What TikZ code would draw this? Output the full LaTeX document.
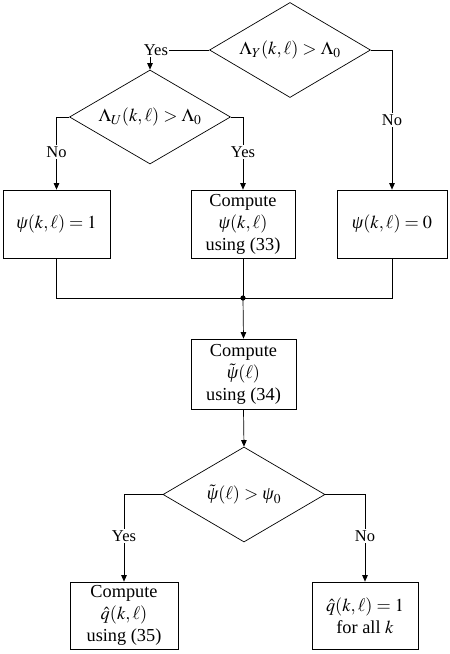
\documentclass[tikz,border=0pt]{standalone}
\usepackage{mathptmx}
\usepackage{fontspec}
\setmainfont{Liberation Serif}
\usetikzlibrary{arrows.meta,shapes.geometric,calc}
\newcommand{\gpsi}{\mbox{\itshape ψ}}
\tikzset{
  boxtext/.style={font=\fontsize{18.3}{22}\selectfont, align=center},
  procbox/.style={draw, line width=0.7pt, boxtext, inner sep=0pt},
  decision/.style={draw, diamond, aspect=1.7, line width=0.7pt, boxtext, inner sep=0pt},
  conn/.style={line width=0.7pt},
  arr/.style={line width=0.7pt, -{Triangle[length=6.5pt,width=5.5pt]}},
  lbl/.style={fill=white, inner sep=1.5pt, font=\fontsize{16.5}{19}\selectfont}
}
\begin{document}
\begin{tikzpicture}[x=1pt,y=-1pt]
\useasboundingbox (0,0) rectangle (450,654);
% decisions
\node[decision, minimum width=161pt, minimum height=95pt] (d1) at (290,50) {$\Lambda_Y(k,\ell)>\Lambda_0$};
\node[decision, minimum width=161pt, minimum height=94pt] (d2) at (150,117) {$\Lambda_U(k,\ell)>\Lambda_0$};
% boxes row 1
\node[procbox, minimum width=107pt, minimum height=68pt] (b1) at (56.5,224) {$\gpsi(k,\ell)=1$};
\node[procbox, minimum width=104pt, minimum height=68pt] (b2) at (243,224) {Compute\\ $\gpsi(k,\ell)$\\ using (33)};
\node[procbox, minimum width=110pt, minimum height=68pt] (b3) at (392,224) {$\gpsi(k,\ell)=0$};
% junction
\coordinate (j) at (243,298);
\fill (j) circle (2.6pt);
% compute psi tilde
\node[procbox, minimum width=105pt, minimum height=70pt] (b4) at (243.5,374) {Compute\\ $\tilde{\gpsi}(\ell)$\\ using (34)};
\node[decision, minimum width=162pt, minimum height=95pt] (d3) at (244,494.5) {$\tilde{\gpsi}(\ell)>\gpsi_0$};
\node[procbox, minimum width=108pt, minimum height=67pt] (b5) at (124,615.5) {Compute\\ $\hat{q}(k,\ell)$\\ using (35)};
\node[procbox, minimum width=106pt, minimum height=67pt] (b6) at (365,615.5) {$\hat{q}(k,\ell)=1$\\ for all $k$};
% connectors
\draw[arr] (d1.west) -| (d2.north) node[lbl, pos=0.45] {Yes};
\draw[arr] (d1.east) -| (b3.north) node[lbl, pos=0.75] {No};
\draw[arr] (d2.west) -| (b1.north) node[lbl, pos=0.74] {No};
\draw[arr] (d2.east) -| (b2.north) node[lbl, pos=0.74] {Yes};
\draw[conn] (b1.south) |- (j);
\draw[conn] (b3.south) |- (j);
\draw[conn] (b2.south) -- (j);
\draw[arr] (j) -- (b4.north);
\draw[arr] (b4.south) -- (d3.north);
\draw[arr] (d3.west) -| (b5.north) node[lbl, pos=0.74] {Yes};
\draw[arr] (d3.east) -| (b6.north) node[lbl, pos=0.74] {No};
\end{tikzpicture}
\end{document}
